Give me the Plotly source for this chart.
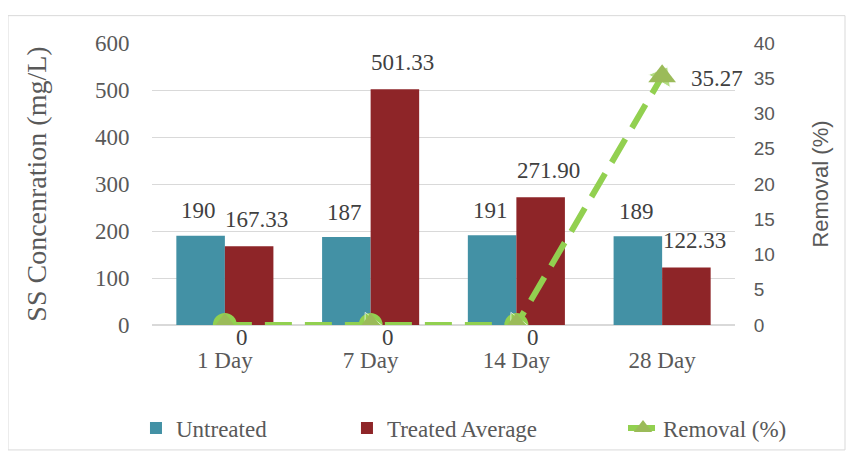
import plotly.graph_objects as go

categories = ["1 Day", "7 Day", "14 Day", "28 Day"]
untreated = [190, 187, 191, 189]
treated = [167.33, 501.33, 271.90, 122.33]
removal = [0, 0, 0, 35.27]
untreated_labels = ["190", "187", "191", "189"]
treated_labels = ["167.33", "501.33", "271.90", "122.33"]
removal_labels = ["0", "0", "0", "35.27"]

SERIF = "Liberation Serif"
SANS = "Liberation Sans"
GREY = "#595959"
TEAL = "#4391A5"
RED = "#8E2528"
GREEN = "#92D050"
OLIVE = "#9BBB59"

fig = go.Figure()
fig.add_trace(go.Bar(x=categories, y=untreated, name="Untreated", legend="legend",
                     marker=dict(color=TEAL, line=dict(width=0))))
fig.add_trace(go.Bar(x=categories, y=treated, name="Treated Average", legend="legend2",
                     marker=dict(color=RED, line=dict(width=0))))

# segment-start ovals and segment-end arrowheads of the removal line
fig.add_trace(go.Scatter(x=categories[:-1], y=removal[:-1], yaxis="y2", mode="markers",
                         marker=dict(symbol="circle", size=24, color=GREEN),
                         showlegend=False, hoverinfo="skip"))
fig.add_trace(go.Scatter(x=categories, y=removal, yaxis="y2", mode="markers",
                         marker=dict(symbol="triangle-up", angleref="previous",
                                     size=[0] + [22] * (len(removal) - 1), color=GREEN),
                         showlegend=False, hoverinfo="skip"))
fig.add_trace(go.Scatter(x=categories, y=removal, yaxis="y2", mode="lines+markers",
                         name="Removal (%)", legend="legend3",
                         line=dict(color=GREEN, width=6, dash="27px,13px"),
                         marker=dict(symbol="triangle-up", size=24, color=OLIVE)))

annotations = []
for c, v, t in zip(categories, untreated, untreated_labels):
    annotations.append(dict(x=c, y=v, xref="x", yref="y", text=t, showarrow=False,
                            xshift=-26, yshift=25, yanchor="middle",
                            font=dict(family=SERIF, size=23, color="#404040")))
for c, v, t in zip(categories, treated, treated_labels):
    annotations.append(dict(x=c, y=v, xref="x", yref="y", text=t, showarrow=False,
                            xshift=32, yshift=27, yanchor="middle",
                            font=dict(family=SERIF, size=23, color="#404040")))
for c, v, t in zip(categories, removal, removal_labels):
    if v > 0:
        xs, ys = 55, -2
    else:
        xs, ys = 17, -12
    annotations.append(dict(x=c, y=v, xref="x", yref="y2", text=t, showarrow=False,
                            xshift=xs, yshift=ys, yanchor="middle",
                            font=dict(family=SERIF, size=23, color="#404040")))

legend_style = dict(orientation="h", xref="container", yref="container",
                    y=0.0646, yanchor="middle", xanchor="left",
                    font=dict(family=SERIF, size=23, color=GREY),
                    bgcolor="rgba(0,0,0,0)")

fig.update_layout(
    width=847, height=449,
    margin=dict(l=144, r=120, t=35, b=132),
    paper_bgcolor="white", plot_bgcolor="white",
    barmode="group", bargap=0.334, bargroupgap=0,
    font=dict(family=SERIF, size=23, color=GREY),
    xaxis=dict(range=[-0.5, len(categories) - 0.5], autorange=False,
               showgrid=False, showline=False, ticks="outside", ticklen=14, automargin=False,
               tickcolor="rgba(0,0,0,0)", tickfont=dict(family=SERIF, size=23, color=GREY)),
    yaxis=dict(range=[0, 600], dtick=100, showgrid=True, gridcolor="#D9D9D9", gridwidth=1,
               zeroline=True, zerolinecolor="#D9D9D9", zerolinewidth=2, automargin=False,
               ticks="outside", ticklen=17, tickcolor="rgba(0,0,0,0)",
               tickfont=dict(family=SERIF, size=23, color=GREY),
               title=dict(text="SS Concenration (mg/L)", standoff=40,
                          font=dict(family=SERIF, size=28, color=GREY))),
    yaxis2=dict(range=[0, 40], dtick=5, overlaying="y", side="right", showgrid=False,
                zeroline=False, ticks="outside", ticklen=14, tickcolor="rgba(0,0,0,0)",
                automargin=False,
                tickfont=dict(family=SANS, size=19, color=GREY),
                title=dict(text="Removal (%)", standoff=38,
                           font=dict(family=SANS, size=22, color=GREY))),
    legend=dict(legend_style, x=0.1511),
    legend2=dict(legend_style, x=0.4002),
    legend3=dict(legend_style, x=0.7261),
    annotations=annotations,
    shapes=[dict(type="rect", xref="paper", yref="paper", x0=-0.247, x1=1.1887,
                 y0=-0.443, y1=1.097, line=dict(color="#D9D9D9", width=1),
                 fillcolor="rgba(0,0,0,0)", layer="below")],
    showlegend=True,
)

fig.write_html("out.html")
